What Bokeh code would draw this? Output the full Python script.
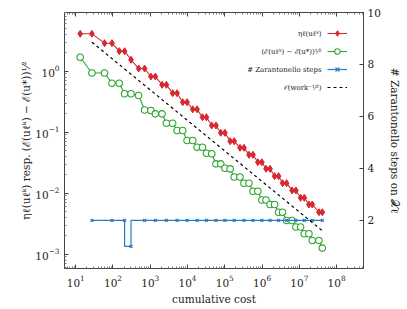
import numpy as np
from bokeh.plotting import figure
from bokeh.models import (Range1d, LinearAxis, LogAxis, LinearScale, FixedTicker, Legend,
                          LegendItem, Label, CustomJSTickFormatter)
from bokeh.embed import file_html
from bokeh.resources import INLINE

# cumulative cost of every iterate
cost = [13.2, 27.2, 59.4, 94.0, 147.6, 205, 305, 488, 707, 1038, 1371, 2075, 2710,
        4000, 5250, 7430, 9750, 1.38e4, 1.81e4, 2.52e4, 3.22e4, 4.47e4, 5.80e4,
        7.80e4, 1.01e5, 1.396e5, 1.79e5, 2.56e5, 3.28e5, 4.48e5, 5.73e5, 7.71e5,
        9.88e5, 1.28e6, 1.64e6, 2.17e6, 2.78e6, 3.56e6, 4.56e6, 6.40e6, 8.10e6,
        1.084e7, 1.363e7, 1.81e7, 2.23e7, 3.37e7, 4.15e7]
# estimator eta_l(u_l^k)
eta = [4.10, 4.10, 2.88, 2.88, 2.13, 2.13, 1.54, 1.107, 1.107, 0.818, 0.818,
       0.598, 0.598, 0.436, 0.436, 0.310, 0.310, 0.237, 0.237, 0.176, 0.176,
       0.129, 0.129, 0.0977, 0.0977, 0.0712, 0.0712, 0.0555, 0.0555, 0.0426, 0.0426,
       0.0322, 0.0322, 0.0251, 0.0251, 0.0190, 0.0190, 0.0146, 0.0146, 0.0111, 0.0111,
       0.00841, 0.00841, 0.00653, 0.00653, 0.00488, 0.00488]
# energy error (E(u_l^k) - E(u*))^(1/2)
energy_err = [1.696, 0.934, 0.934, 0.636, 0.636, 0.426, 0.426, 0.400, 0.231, 0.227,
              0.200, 0.200, 0.1405, 0.1405, 0.1066, 0.1066, 0.0731, 0.0731, 0.0568,
              0.0568, 0.0453, 0.0443, 0.0303, 0.0303, 0.0257, 0.0251, 0.0184, 0.0184,
              0.0146, 0.0146, 0.01075, 0.01075, 0.00774, 0.00774, 0.00653, 0.00653,
              0.00488, 0.00488, 0.00357, 0.00357, 0.00279, 0.00279, 0.00216, 0.00216,
              0.00168, 0.00168, 0.00126]
# per level: cumulative cost at the end of the level and number of Zarantonello steps
level_cost = [27.2, 94.0, 205, 305, 707, 1371, 2710, 5250, 9750, 1.81e4, 3.22e4,
              5.80e4, 1.01e5, 1.79e5, 3.28e5, 5.73e5, 9.88e5, 1.64e6, 2.78e6, 4.56e6,
              8.10e6, 1.363e7, 2.23e7, 4.15e7]
zaran_steps = [2, 2, 2, 1, 2, 2, 2, 2, 2, 2, 2, 2, 2, 2, 2, 2, 2, 2, 2, 2, 2, 2, 2, 2]
# reference rate O(work^-1/2)
rate_cost = [27.2, 4.15e7]
rate_val = [2.99, 0.00242]

legend_labels = ["ηℓ(uℓᵏ)", "(ℰ(uℓᵏ) − ℰ(u*))¹⁄²", "# Zarantonello steps", "𝒪(work⁻¹⁄²)"]

RED = "#d7282f"
GREEN = "#2ea32e"
BLUE = "#2a7bc0"
SERIF = "DejaVu Serif"

W, H = 407, 309
BL, BR, BT, BB = 64, 44, 12, 41
FW, FH = W - BL - BR, H - BT - BB
p = figure(width=W, height=H, x_axis_type="log", y_axis_type="log",
           x_range=Range1d(5.0, 5.28e8), y_range=Range1d(5.83e-4, 9.17),
           output_backend="svg", toolbar_location=None)
p.min_border_left = BL
p.min_border_right = BR
p.min_border_top = BT
p.min_border_bottom = BB
p.outline_line_color = "#444444"
p.xgrid.visible = False
p.ygrid.visible = False

bottom = p.below[0]
left = p.left[0]

xmaj = [10.0 ** e for e in range(0, 10)]
xmin = [m * 10.0 ** e for e in range(0, 9) for m in range(2, 10)]
ymaj = [10.0 ** e for e in range(-4, 2)]
ymin = [m * 10.0 ** e for e in range(-4, 1) for m in range(2, 10)]

bottom.ticker = FixedTicker(ticks=xmaj, minor_ticks=xmin)
left.ticker = FixedTicker(ticks=ymaj, minor_ticks=ymin)

top = LogAxis(ticker=FixedTicker(ticks=xmaj, minor_ticks=xmin),
              formatter=CustomJSTickFormatter(code="return ''"))
top.major_label_text_font_size = "1px"
top.major_label_standoff = 0
p.add_layout(top, "above")

p.extra_y_ranges = {"steps": Range1d(0.15, 10)}
p.extra_y_scales = {"steps": LinearScale()}
right = LinearAxis(y_range_name="steps", ticker=FixedTicker(ticks=[2, 4, 6, 8, 10]),
                   axis_label="# Zarantonello steps on 𝒳ℓ")
p.add_layout(right, "right")

for ax in [bottom, left, top, right]:
    ax.axis_line_color = "#444444"
    ax.major_tick_line_color = "#444444"
    ax.minor_tick_line_color = "#777777"
    ax.major_tick_in = 4
    ax.major_tick_out = 0
    ax.minor_tick_in = 2
    ax.minor_tick_out = 0
    ax.major_label_text_font = SERIF
    ax.axis_label_text_font = SERIF
    ax.axis_label_text_font_style = "normal"
    ax.axis_label_text_color = "#222222"
    ax.major_label_text_color = "#222222"
right.minor_tick_line_color = None

for ax in [bottom, left, right]:
    ax.major_label_text_font_size = "10.5px"
    ax.axis_label_text_font_size = "10.5px"

bottom.axis_label = "cumulative cost"
bottom.major_label_standoff = 6
bottom.axis_label_standoff = 3
left.axis_label = "ηℓ(uℓᵏ) resp. (ℰ(uℓᵏ) − ℰ(u*))¹⁄²"
left.major_label_standoff = 5
left.axis_label_standoff = 0
right.major_label_standoff = 4
right.axis_label_standoff = 5

r_eta_l = p.line(cost, eta, line_color=RED, line_width=1.1)
r_eta_m = p.scatter(cost, eta, marker="diamond", size=7, fill_color=RED, line_color=RED)
r_en_l = p.line(cost, energy_err, line_color=GREEN, line_width=1.1)
r_en_m = p.scatter(cost, energy_err, marker="circle", size=6.5, fill_color="white",
                   line_color=GREEN, line_width=1.1)
r_z_l = p.step(level_cost, zaran_steps, mode="before", y_range_name="steps",
               line_color=BLUE, line_width=1.2)
r_z_m = p.scatter(level_cost, zaran_steps, marker="x", size=4, y_range_name="steps",
                  line_color=BLUE, line_width=1.2)
r_rate = p.line(rate_cost, rate_val, line_color="black", line_width=1.2, line_dash="3 3")

# legend: glyph samples on the right, texts right-aligned to their left
row_h = 14
row_gap = 4
n_rows = 4
leg_h = n_rows * row_h + (n_rows - 1) * row_gap
leg_top = FH - 14
legend = Legend(items=[LegendItem(label=" ", renderers=[r_eta_l, r_eta_m]),
                       LegendItem(label=" ", renderers=[r_en_l, r_en_m]),
                       LegendItem(label=" ", renderers=[r_z_l, r_z_m]),
                       LegendItem(label=" ", renderers=[r_rate])],
                location=(263, leg_top - leg_h), glyph_width=20, glyph_height=row_h,
                label_width=0, label_standoff=0, label_text_font_size="6px",
                padding=0, margin=0, spacing=row_gap, border_line_color=None,
                background_fill_alpha=0)
p.add_layout(legend, "center")
for i, txt in enumerate(legend_labels):
    p.add_layout(Label(x=257, y=leg_top - row_h / 2 - i * (row_h + row_gap),
                       x_units="screen", y_units="screen", text=txt,
                       text_align="right", text_baseline="middle",
                       text_font=SERIF, text_font_size="7px", text_color="#222222"))

open("out.html", "w").write(file_html(p, INLINE))
